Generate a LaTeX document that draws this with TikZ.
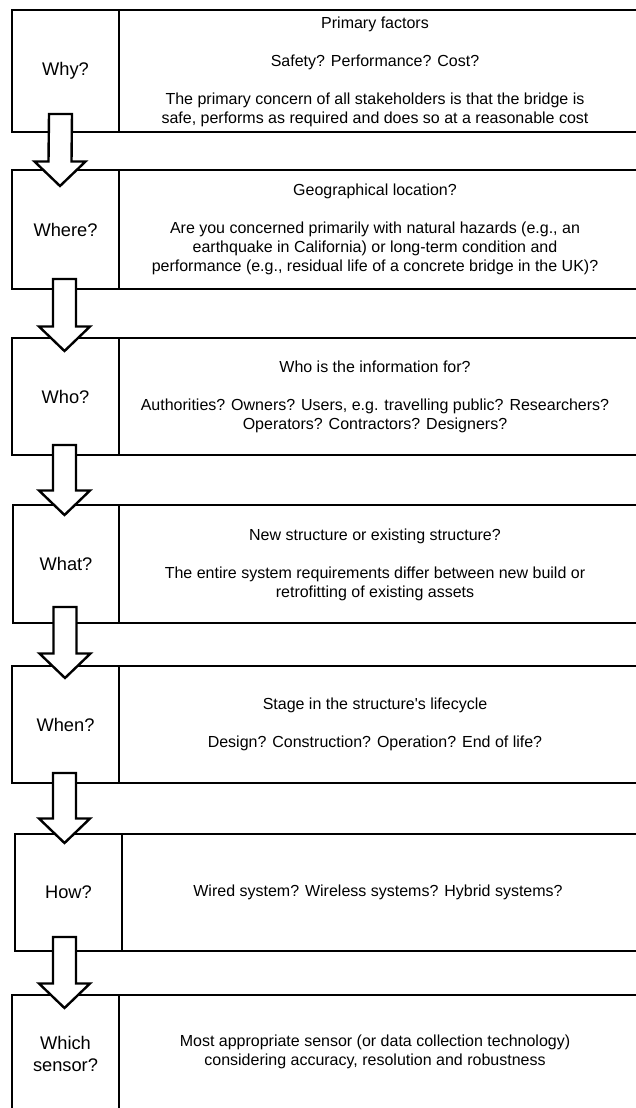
\documentclass[tikz,border=0pt]{standalone}
\usepackage{fontspec}
\setmainfont{Liberation Sans}
\usetikzlibrary{calc}
\tikzset{
  boxline/.style={line width=1.6pt, draw=black},
  divline/.style={line width=0.9pt, draw=black},
  lab/.style={align=center, font=\fontsize{13.7pt}{16.5pt}\selectfont, inner sep=0pt},
  txt/.style={align=center, font=\fontsize{12pt}{14.25pt}\selectfont, inner sep=0pt},
  blockarr/.style={line width=1.8pt, draw=black, fill=white, line join=miter},
}
\newcommand{\flowarrow}[2]{%
  \draw[blockarr] ($(#1)+(-11.5,0)$) -- ($(#1)+(11.5,0)$) -- ($(#2)+(11.5,-24.5)$)
    -- ($(#2)+(25.5,-24.5)$) -- (#2) -- ($(#2)+(-25.5,-24.5)$) -- ($(#2)+(-11.5,-24.5)$) -- cycle;}
\begin{document}
\begin{tikzpicture}[x=0.75pt,y=-0.75pt]
\useasboundingbox (0,0) rectangle (636,1108);
\fill[white] (0,0) rectangle (636,1108);
\clip (0,0) rectangle (636,1108);
% boxes
\draw[boxline] (12,10) rectangle (645,132);   \draw[divline] (119,10) -- (119,132);
\draw[boxline] (12,170) rectangle (645,289);  \draw[divline] (119,170) -- (119,289);
\draw[boxline] (12,338) rectangle (645,455);  \draw[divline] (119,338) -- (119,455);
\draw[boxline] (13,505) rectangle (645,623);  \draw[divline] (119,505) -- (119,623);
\draw[boxline] (12,666) rectangle (645,783);  \draw[divline] (119,666) -- (119,783);
\draw[boxline] (15,834) rectangle (645,951);  \draw[divline] (122,834) -- (122,951);
\draw[boxline] (12,995) rectangle (645,1115); \draw[divline] (119,995) -- (119,1115);
% left labels
\node[lab] (why)   at (65.5,71)    {Why?};
\node[lab] (where) at (65.5,229.5) {Where?};
\node[lab] (who)   at (65.5,396.5) {Who?};
\node[lab] (what)  at (66,564)     {What?};
\node[lab] (when)  at (65.5,724.5) {When?};
\node[lab] (how)   at (68.5,892.5) {How?};
\node[lab] (which) at (65.5,1054)  {Which\\sensor?};
% texts
\node[txt] (t1) at (375,72) {Primary factors\\[14.25pt]Safety? Performance? Cost?\\[14.25pt]The primary concern of all stakeholders is that the bridge is\\safe, performs as required and does so at a reasonable cost};
\node[txt] (t2) at (375,229.5) {Geographical location?\\[14.25pt]Are you concerned primarily with natural hazards (e.g., an\\earthquake in California) or long-term condition and\\performance (e.g., residual life of a concrete bridge in the UK)?};
\node[txt] (t3) at (375,397) {Who is the information for?\\[14.25pt]Authorities? Owners? Users, e.g. travelling public? Researchers?\\Operators? Contractors? Designers?};
\node[txt] (t4) at (375,565) {New structure or existing structure?\\[14.25pt]The entire system requirements differ between new build or\\retrofitting of existing assets};
\node[txt] (t5) at (375,724.5) {Stage in the structure\textquotesingle s lifecycle\\[14.25pt]Design? Construction? Operation? End of life?};
\node[txt] (t6) at (378,892.5) {Wired system? Wireless systems? Hybrid systems?};
\node[txt] (t7) at (375,1052) {Most appropriate sensor (or data collection technology)\\considering accuracy, resolution and robustness};
% arrows
\coordinate (a1s) at (60.5,114);  \coordinate (a1e) at (60,186);
\coordinate (a2s) at (64.5,279);  \coordinate (a2e) at (64.5,351);
\coordinate (a3s) at (64.5,445);  \coordinate (a3e) at (64.5,515);
\coordinate (a4s) at (65,607);    \coordinate (a4e) at (65,678);
\coordinate (a5s) at (64.5,773);  \coordinate (a5e) at (64.5,843);
\coordinate (a6s) at (64.5,937);  \coordinate (a6e) at (64.5,1008);
\flowarrow{a1s}{a1e}
\flowarrow{a2s}{a2e}
\flowarrow{a3s}{a3e}
\flowarrow{a4s}{a4e}
\flowarrow{a5s}{a5e}
\flowarrow{a6s}{a6e}
\end{tikzpicture}
\end{document}
